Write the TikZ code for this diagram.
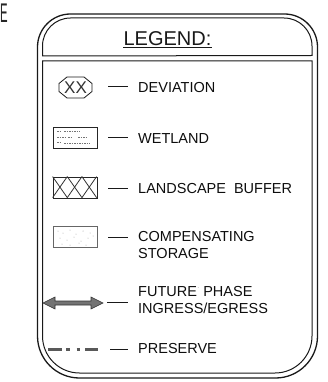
\documentclass[tikz,border=0pt]{standalone}
\usepackage{fontspec}
\setmainfont{Liberation Sans}
\usetikzlibrary{calc}
\tikzset{
  ink/.style={draw=black!90},
  lbl/.style={anchor=west, inner sep=0pt, font=\fontsize{14.5}{17}\selectfont, text=black!95, align=left},
  sym/.style={draw=black!85, line width=0.8pt, minimum width=44pt, minimum height=21pt, inner sep=0pt},
  tick/.style={draw=black!90, line width=1pt},
}
\begin{document}
\begin{tikzpicture}[x=1pt,y=-1pt]
\useasboundingbox (0,0) rectangle (328,382);
% stray letter at the edge
\node[anchor=west, inner sep=0pt, font=\fontsize{27}{27}\selectfont, text=black!85] (cut) at (0,13) {\scalebox{0.42}[1]{E}};
% outer border
\draw[ink, line width=1.3pt]
  (37.5,47) arc[start angle=180,end angle=270,radius=33] -- (284.5,14)
  arc[start angle=270,end angle=360,radius=33] -- (317.5,336)
  arc[start angle=0,end angle=90,radius=42] -- (79.5,378)
  arc[start angle=90,end angle=180,radius=42] -- cycle;
% inner header compartment
\draw[ink, line width=1pt]
  (42.5,56) -- (42.5,46) arc[start angle=180,end angle=270,radius=28] -- (284,18)
  arc[start angle=270,end angle=360,radius=28] -- (312,55.5) -- cycle;
% inner body compartment
\draw[ink, line width=1pt]
  (42.5,61) -- (312,61) -- (312,336)
  arc[start angle=0,end angle=90,radius=37] -- (79.5,373)
  arc[start angle=90,end angle=180,radius=37] -- cycle;
% title
\node[inner sep=0pt, font=\fontsize{20}{20}\selectfont, text=black!90] (title) at (167.5,38.5) {LEGEND:};
\draw[ink, line width=0.9pt] ([yshift=-1.5pt]title.south west) -- ([yshift=-1.5pt]title.south east);

% row 1: deviation
\coordinate (oc) at (75.5,87.5);
\draw[ink, line width=0.8pt] (67,77) -- (84,77) -- (92,83.5) -- (92,91.5) -- (84,98) -- (67,98) -- (59,91.5) -- (59,83.5) -- cycle;
\node[inner sep=0pt, font=\fontsize{17}{17}\selectfont, text=black!80] (xx) at (oc) {XX};
\draw[tick] (108,87) -- (128,87);
\node[lbl] (t1) at (138,87.5) {DEVIATION};

% row 2: wetland
\node[sym] (wet) at (75,137.5) {};
\foreach \yy/\xa/\xb in {131/57/62, 131/64/80, 137.5/57/66, 137.5/68/73, 137.5/78/86, 142.5/57/61, 143.5/64/90} {
  \draw[black!55, line width=0.6pt, dash pattern=on 1.5pt off 1pt] (\xa,\yy) -- (\xb,\yy);
}
\draw[tick] (108,138) -- (128,138);
\node[lbl] (t2) at (138,138.5) {WETLAND};

% row 3: landscape buffer
\node[sym] (buf) at (75,187.5) {};
\foreach \i in {0,1,2} {
  \draw[black!80, line width=0.8pt] ($(buf.north west)+(14.67*\i,0)$) -- ($(buf.north west)+(14.67*\i+14.67,21)$);
  \draw[black!80, line width=0.8pt] ($(buf.north west)+(14.67*\i+14.67,0)$) -- ($(buf.north west)+(14.67*\i,21)$);
}
\draw[tick] (108,188) -- (128,188);
\node[lbl] (t3) at (138,189) {LANDSCAPE\ \ BUFFER};

% row 4: compensating storage
\node[sym, draw=black!60] (comp) at (75,237) {};
\foreach \px/\py in {58/231,63/233,70/230,76/234,83/231,90/233,60/238,67/240,74/237,81/241,88/238,93/236,62/244,70/245,79/243,86/245} {
  \fill[black!35] (\px,\py) circle[radius=0.5];
}
\draw[tick] (108,237) -- (128,237);
\node[lbl, anchor=north west] (t4) at (138,231.5) {COMPENSATING\\STORAGE};

% row 5: future phase ingress/egress
\coordinate (fa) at (43,303);
\coordinate (fb) at (103,303);
\filldraw[fill=black!55, draw=black!80, line width=0.6pt]
  (fa) -- ++(12,-6) -- ++(0,4) -- ++(36,0) -- ++(0,-4) -- (fb) -- ++(-12,6) -- ++(0,-4) -- ++(-36,0) -- ++(0,4) -- cycle;
\draw[tick] (107,302) -- (128,302);
\node[lbl, anchor=north west] (t5) at (138,286.5) {FUTURE\raisebox{0.9ex}{\tiny$\cdot$} PHASE\\INGRESS/EGRESS};

% row 6: preserve
\foreach \xa/\xb in {48/62, 66/70, 76.5/80, 85/98} {
  \draw[black!65, line width=3pt] (\xa,349) -- (\xb,349);
}
\draw[tick] (110,349) -- (128,349);
\node[lbl] (t6) at (138,349) {PRESERVE};
\end{tikzpicture}
\end{document}
